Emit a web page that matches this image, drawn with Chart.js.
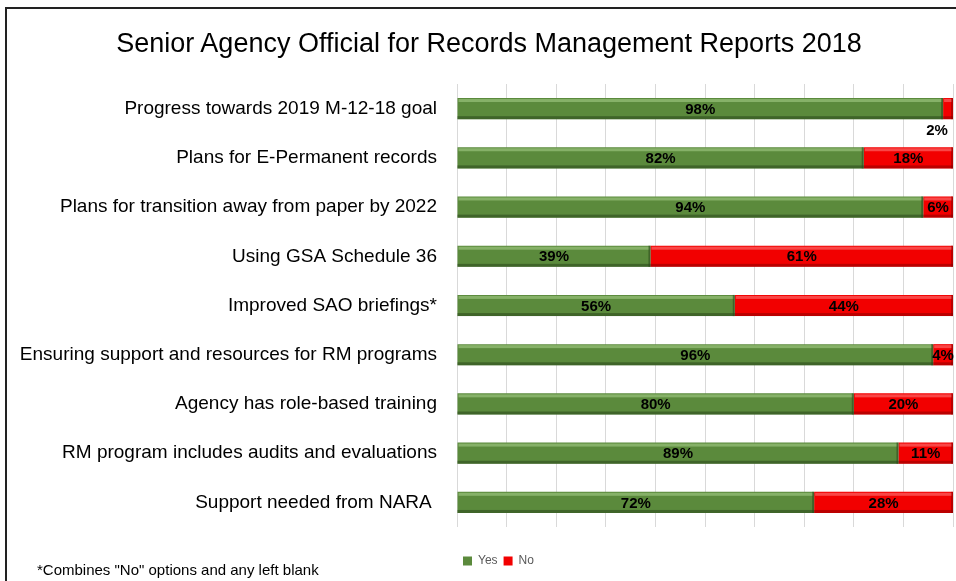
<!DOCTYPE html>
<html>
<head>
<meta charset="utf-8">
<script src="https://cdn.jsdelivr.net/npm/chart.js@4/dist/chart.umd.min.js"></script>
<style>
  html, body { margin: 0; padding: 0; background: #fff; }
  #wrap { position: relative; width: 956px; height: 581px; }
  #frame { position: absolute; left: 5px; top: 7px; width: 960px; height: 600px;
           border-top: 2px solid #222; border-left: 2px solid #222; pointer-events: none; }
  #title { position: absolute; left: 89px; width: 800px; top: 27px; text-align: center;
           font: 27px "Liberation Sans", Arial, sans-serif; color: #000; white-space: nowrap; line-height: 32px; }
  #note { position: absolute; left: 37px; top: 561px; font: 15px "Liberation Sans", Arial, sans-serif; color: #000; white-space: nowrap; }
</style>
</head>
<body>
<div id="wrap">
  <canvas id="c" width="956" height="581"></canvas>
  <div id="frame"></div>
  <div id="title"></div>
  <div id="note">*Combines "No" options and any left blank</div>
</div>
<script>
const titleText = "Senior Agency Official for Records Management Reports 2018";
const categories = [
  "Progress towards 2019 M-12-18 goal",
  "Plans for E-Permanent records",
  "Plans for transition away from paper by 2022",
  "Using GSA Schedule 36",
  "Improved SAO briefings*",
  "Ensuring support and resources for RM programs",
  "Agency has role-based training",
  "RM program includes audits and evaluations",
  "Support needed from NARA "
];
const yesValues = [98, 82, 94, 39, 56, 96, 80, 89, 72];
const noValues  = [2, 18, 6, 61, 44, 4, 20, 11, 28];
const seriesNames = ["Yes", "No"];

document.getElementById('title').textContent = titleText;

const bevelPlugin = {
  id: 'bevel',
  afterDatasetsDraw(chart) {
    const ctx = chart.ctx;
    chart.data.datasets.forEach((ds, di) => {
      const meta = chart.getDatasetMeta(di);
      const light = di === 0 ? 'rgba(170,210,140,0.55)' : 'rgba(255,140,140,0.5)';
      const dark = di === 0 ? 'rgba(40,70,25,0.55)' : 'rgba(120,0,0,0.45)';
      meta.data.forEach(el => {
        const x0 = Math.min(el.base, el.x), x1 = Math.max(el.base, el.x);
        const top = el.y - el.height / 2, bot = el.y + el.height / 2;
        ctx.save();
        ctx.fillStyle = light;
        ctx.fillRect(x0 + 1, top + 1, x1 - x0 - 2, 3);
        ctx.fillStyle = dark;
        ctx.fillRect(x0, bot - 3, x1 - x0, 3);
        ctx.fillRect(x1 - 2, top, 2, el.height);
        ctx.restore();
      });
    });
  }
};

const labelPlugin = {
  id: 'barLabels',
  afterDatasetsDraw(chart) {
    const ctx = chart.ctx;
    ctx.save();
    ctx.font = 'bold 15px "Liberation Sans", Arial, sans-serif';
    ctx.fillStyle = '#000';
    ctx.textAlign = 'center';
    ctx.textBaseline = 'middle';
    chart.data.datasets.forEach((ds, di) => {
      const meta = chart.getDatasetMeta(di);
      meta.data.forEach((el, i) => {
        const v = ds.data[i];
        const txt = v + '%';
        if (v < 3) {
          ctx.fillText(txt, el.x - 16, el.y + el.height / 2 + 12);
        } else {
          ctx.fillText(txt, (el.base + el.x) / 2, el.y + 1);
        }
      });
    });
    ctx.restore();
  }
};

new Chart(document.getElementById('c'), {
  type: 'bar',
  data: {
    labels: categories,
    datasets: [
      { label: seriesNames[0], data: yesValues, backgroundColor: '#5b8a3c', borderWidth: 0 },
      { label: seriesNames[1], data: noValues, backgroundColor: '#f20000', borderWidth: 0 }
    ]
  },
  options: {
    indexAxis: 'y',
    responsive: false,
    animation: false,
    layout: { padding: { left: 0, right: 3, top: 84, bottom: 4 } },
    datasets: { bar: { categoryPercentage: 1, barPercentage: 0.43 } },
    scales: {
      x: {
        stacked: true, min: 0, max: 100,
        afterFit(scale) { scale.height = 22; },
        ticks: { display: false, stepSize: 10 },
        grid: { color: '#d9d9d9', lineWidth: 1, drawTicks: false },
        border: { display: false }
      },
      y: {
        stacked: true,
        afterFit(scale) { scale.width = 457; },
        ticks: { color: '#000', padding: 20, font: { size: 19, family: '"Liberation Sans", Arial, sans-serif' } },
        grid: { display: false, drawTicks: false },
        border: { display: false }
      }
    },
    plugins: {
      title: { display: false },
      legend: {
        position: 'bottom', align: 'start', fullSize: false,
        labels: { boxWidth: 9, boxHeight: 9, padding: 6, color: '#595959',
                  font: { size: 12, family: '"Liberation Sans", Arial, sans-serif' } }
      },
      tooltip: { enabled: false }
    }
  },
  plugins: [bevelPlugin, labelPlugin]
});
</script>
</body>
</html>
